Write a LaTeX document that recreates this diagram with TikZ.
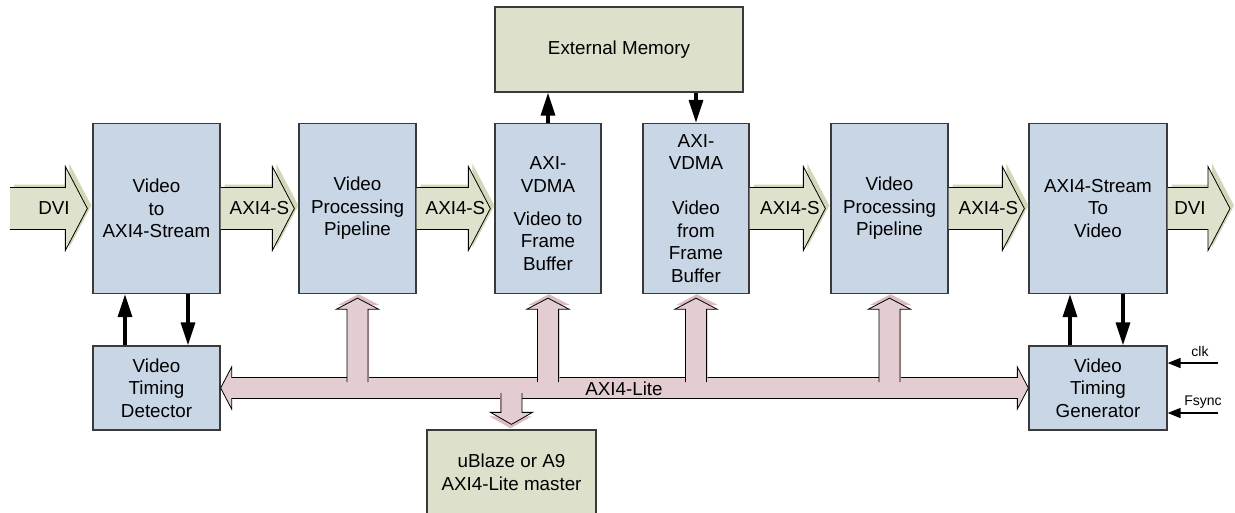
\documentclass[tikz,border=0pt]{standalone}
\usepackage{fontspec}
\setmainfont{Liberation Sans}
\usetikzlibrary{arrows.meta,calc}

\definecolor{boxblue}{HTML}{C9D6E5}
\definecolor{boxline}{HTML}{3A3A3A}
\definecolor{memgreen}{HTML}{DDE1CB}
\definecolor{strgreen}{HTML}{DEE2CD}
\definecolor{strshade}{HTML}{D0D8B8}
\definecolor{buspink}{HTML}{E3CDD0}
\definecolor{busshade}{HTML}{DABCC1}

\newcommand{\boxfont}{\fontsize{18.8}{22.5}\selectfont}
\newcommand{\sarrowpath}[2]{(\x1+#1,\y1+21pt+#2) -- (\x2-22pt+#1,\y1+21pt+#2) -- (\x2-22pt+#1,\y1+42pt+#2) -- (\x2+#1,\y1+#2) -- (\x2-22pt+#1,\y1-42pt+#2) -- (\x2-22pt+#1,\y1-21pt+#2) -- (\x1+#1,\y1-21pt+#2)}
\newcommand{\uppath}[2]{(\x1-10.5pt+#1,\y2+6pt+#2) -- (\x1-10.5pt+#1,\y1-15pt+#2) -- (\x1-21pt+#1,\y1-15pt+#2) -- (\x1+#1,\y1-4pt+#2) -- (\x1+21pt+#1,\y1-15pt+#2) -- (\x1+10.5pt+#1,\y1-15pt+#2) -- (\x1+10.5pt+#1,\y2+6pt+#2)}
\newcommand{\downpath}[2]{(\x1-10.5pt+#1,\y2-5pt+#2) -- (\x1-10.5pt+#1,\y1+17pt+#2) -- (\x1-21pt+#1,\y1+17pt+#2) -- (\x1+#1,\y1+5pt+#2) -- (\x1+21pt+#1,\y1+17pt+#2) -- (\x1+10.5pt+#1,\y1+17pt+#2) -- (\x1+10.5pt+#1,\y2-5pt+#2)}
\newcommand{\streamarrow}[2]{%
  \fill[strshadow] let \p1=(#1), \p2=(#2) in \sarrowpath{4pt}{3pt} -- cycle;
  \filldraw[strarrow] let \p1=(#1), \p2=(#2) in \sarrowpath{0pt}{0pt};}
\newcommand{\busup}[1]{%
  \fill[busshadow] let \p1=(#1.south), \p2=(vtd.east) in \uppath{1pt}{4pt} -- cycle;
  \filldraw[busarrow] let \p1=(#1.south), \p2=(vtd.east) in \uppath{0pt}{0pt};}
\newcommand{\busdown}[1]{%
  \fill[busshadow] let \p1=(#1.north), \p2=(vtd.east) in \downpath{-1pt}{-4pt} -- cycle;
  \filldraw[busarrow] let \p1=(#1.north), \p2=(vtd.east) in \downpath{0pt}{0pt};}

\tikzset{
  blk/.style={draw=boxline, line width=1.3pt, fill=boxblue, align=center, inner sep=0pt, font=\boxfont},
  memblk/.style={blk, fill=memgreen},
  lbl/.style={font=\boxfont, inner sep=0pt},
  tinylbl/.style={font=\fontsize{14}{16}\selectfont, inner sep=0pt},
  sig/.style={line width=3.2pt, -{Triangle[length=23pt 0 1,width=14pt 0 1]}},
  ctl/.style={line width=1.6pt, -{Triangle[length=13pt 0 1,width=10pt 0 1]}},
  strarrow/.style={fill=strgreen, draw=black, line width=0.8pt},
  strshadow/.style={fill=strshade},
  busarrow/.style={fill=buspink, draw=black, line width=0.8pt},
  busshadow/.style={fill=busshade},
}

\begin{document}
\begin{tikzpicture}[x=1pt,y=-1pt]
\useasboundingbox (0,0) rectangle (1235,512);

\node[memblk, minimum width=248, minimum height=85] (extmem) at (619,49.5) {External Memory};
\node[blk, minimum width=127, minimum height=170] (v2axi) at (156.5,208.5) {Video\\to\\AXI4-Stream};
\node[blk, minimum width=117, minimum height=170] (vpp1) at (357.5,208.5) {Video\\Processing\\Pipeline};
\node[blk, minimum width=106, minimum height=170] (vdmaw) at (548,208.5) {};
\node[lbl, align=center] (vdmawtxt) at (548,213.5) {AXI-\\VDMA\\[10.5pt]Video to\\Frame\\Buffer};
\node[blk, minimum width=106, minimum height=170] (vdmar) at (696,208.5) {AXI-\\VDMA\\[22.5pt]Video\\from\\Frame\\Buffer};
\node[blk, minimum width=117, minimum height=170] (vpp2) at (889.5,208.5) {Video\\Processing\\Pipeline};
\node[blk, minimum width=138, minimum height=170] (axi2v) at (1098,208.5) {AXI4-Stream\\To\\Video};
\node[blk, minimum width=127, minimum height=84] (vtd) at (156.5,388) {Video\\Timing\\Detector};
\node[blk, minimum width=138, minimum height=84] (vtg) at (1098,388) {Video\\Timing\\Generator};
\node[memblk, minimum width=169, minimum height=85] (ublaze) at (511.5,472.5) {uBlaze or A9\\AXI4-Lite master};

\filldraw[busarrow] let \p1=(vtd.east), \p2=(vtg.west) in
  (\x1,\y1) -- (\x1+11pt,\y1+21pt) -- (\x1+11pt,\y1+10.5pt) -- (\x2-11pt,\y1+10.5pt)
  -- (\x2-11pt,\y1+21pt) -- (\x2,\y1) -- (\x2-11pt,\y1-21pt) -- (\x2-11pt,\y1-10.5pt)
  -- (\x1+11pt,\y1-10.5pt) -- (\x1+11pt,\y1-21pt) -- cycle;
\busup{vpp1}
\busup{vdmaw}
\busup{vdmar}
\busup{vpp2}
\busdown{ublaze}

\coordinate (dvisrc) at (10,208.5);
\coordinate (dvisink) at (1230,208.5);
\streamarrow{dvisrc}{[xshift=-5pt]v2axi.west}
\streamarrow{v2axi.east}{[xshift=-4pt]vpp1.west}
\streamarrow{vpp1.east}{[xshift=-4pt]vdmaw.west}
\streamarrow{vdmar.east}{[xshift=-5pt]vpp2.west}
\streamarrow{vpp2.east}{[xshift=-4pt]axi2v.west}
\streamarrow{axi2v.east}{dvisink}

\node[lbl] (dviinlbl) at (54,208.5) {DVI};
\node[lbl] (s1lbl) at ($(v2axi.east)!0.5!(vpp1.west)$) {AXI4-S};
\node[lbl] (s2lbl) at ($(vpp1.east)!0.5!(vdmaw.west)$) {AXI4-S};
\node[lbl] (s3lbl) at ($(vdmar.east)!0.5!(vpp2.west)$) {AXI4-S};
\node[lbl] (s4lbl) at ($(vpp2.east)!0.5!(axi2v.west)$) {AXI4-S};
\node[lbl] (dvioutlbl) at (1190,208.5) {DVI};
\node[lbl] (buslbl) at (624,388.5) {AXI4-Lite};

\draw[sig] ([xshift=-31.5pt]vtd.north) -- ([xshift=-31.5pt]v2axi.south);
\draw[sig] ([xshift=31.5pt]v2axi.south) -- ([xshift=31.5pt]vtd.north);
\draw[sig] ([xshift=-28pt]vtg.north) -- ([xshift=-28pt]axi2v.south);
\draw[sig] ([xshift=25pt]axi2v.south) -- ([xshift=25pt]vtg.north);
\draw[sig] (vdmaw.north) -- (vdmaw.north |- extmem.south);
\draw[sig] (vdmar.north |- extmem.south) -- (vdmar.north);

\coordinate (clksrc) at (1218,363);
\coordinate (fsyncsrc) at (1218,413);
\draw[ctl] (clksrc) -- (clksrc -| vtg.east);
\draw[ctl] (fsyncsrc) -- (fsyncsrc -| vtg.east);
\node[tinylbl] (clklbl) at (1200,351) {clk};
\node[tinylbl] (fsynclbl) at (1203,402) {Fsync};
\end{tikzpicture}
\end{document}
